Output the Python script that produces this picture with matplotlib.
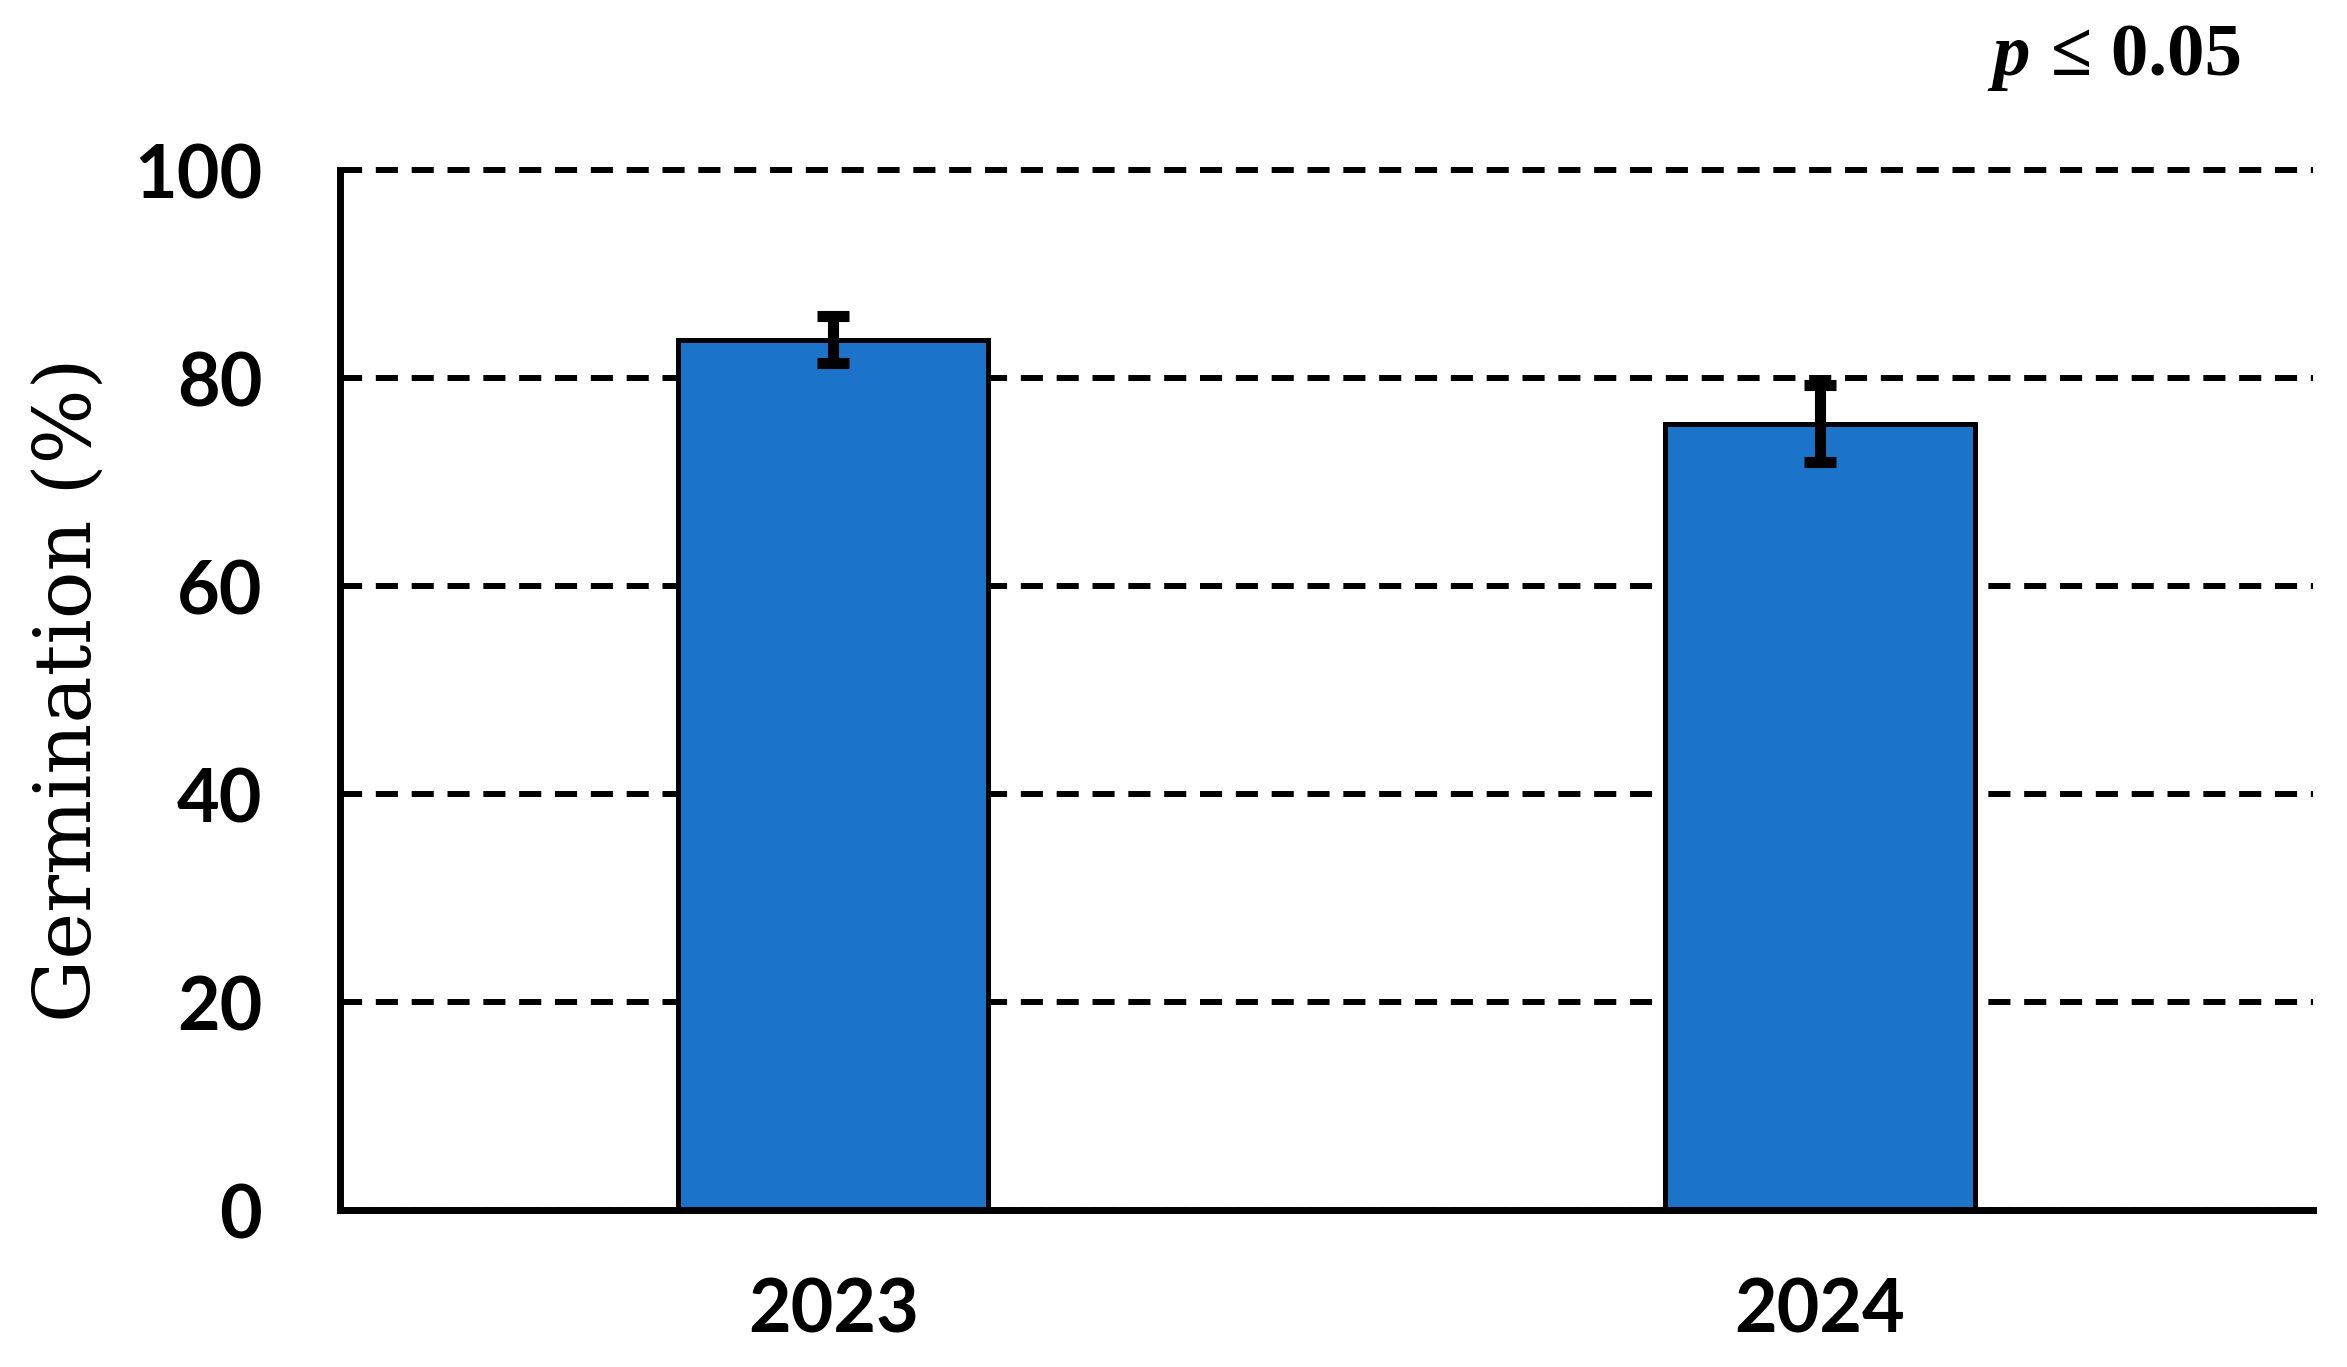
import matplotlib
matplotlib.use("Agg")
import matplotlib.pyplot as plt

years = ["2023", "2024"]
germination = [83.7, 75.6]
errors = [2.3, 3.7]
yticks = [0, 20, 40, 60, 80, 100]

fig = plt.figure(figsize=(23.47, 13.67), dpi=100)
ax = fig.add_axes([0.1449, 0.1148, 0.8406, 0.7608])

x = list(range(len(years)))
ax.bar(x, germination, width=0.314, color="#1B74C9", edgecolor="black",
       linewidth=3.6, zorder=3)
ax.errorbar(x, germination, yerr=errors, fmt="none", ecolor="black",
            elinewidth=8, capsize=11.5, capthick=8, zorder=4)

ax.set_xlim(-0.5, 1.5)
ax.set_ylim(0, 100)
ax.set_yticks(yticks)
ax.set_xticks(x)
ax.set_xticklabels(years)

# dashed horizontal grid, including the line at 100
ax.yaxis.grid(True, color="black", linewidth=4.3, linestyle=(0, (3.7, 2.3)), zorder=1)
ax.set_axisbelow(True)
for gl in ax.get_ygridlines():
    gl.set_clip_on(False)

for s in ["top", "right"]:
    ax.spines[s].set_visible(False)
for s in ["left", "bottom"]:
    ax.spines[s].set_linewidth(5)
    ax.spines[s].set_zorder(5)

ax.tick_params(axis="both", length=0)
ax.tick_params(axis="y", pad=56)
ax.tick_params(axis="x", pad=48)
for lab in ax.get_xticklabels() + ax.get_yticklabels():
    lab.set_fontfamily("Lato")
    lab.set_fontweight("bold")
    lab.set_fontsize(53)

ax.set_ylabel("Germination (%)", fontfamily="DejaVu Serif", fontsize=57,
              fontweight="normal")
ax.yaxis.set_label_coords(-0.118, 0.5)

fig.text(0.9553, 0.945, "\u2264 0.05", fontfamily="Liberation Serif",
         fontweight="bold", fontsize=54, ha="right", va="baseline")
fig.text(0.865, 0.945, "p", fontfamily="Liberation Serif", fontstyle="italic",
         fontweight="bold", fontsize=54, ha="right", va="baseline")

fig.savefig("out.png", dpi=100, facecolor="white")
